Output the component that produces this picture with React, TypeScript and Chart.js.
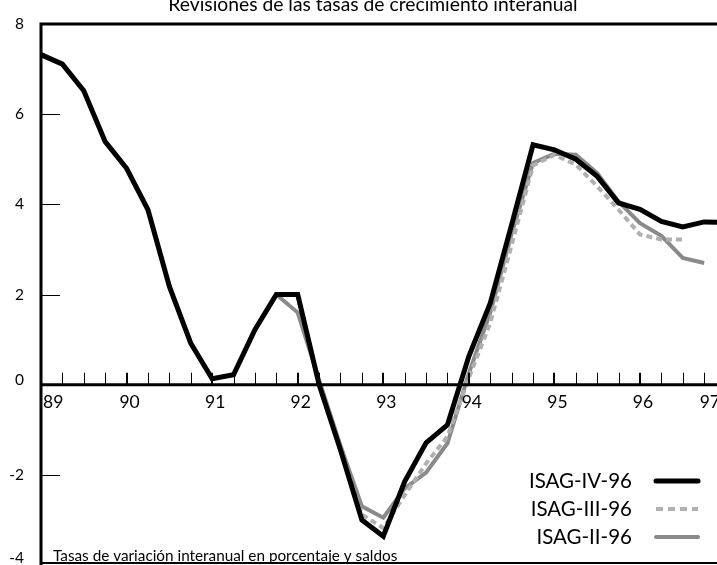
import React, { useEffect, useRef } from "react";
import { Chart, registerables } from "chart.js";

Chart.register(...registerables);

// Quarterly categories, 1989-I .. 1997-I
const years = ["89", "90", "91", "92", "93", "94", "95", "96", "97"];
const quarters: string[] = [];
years.forEach((yy) => ["I", "II", "III", "IV"].forEach((q) => quarters.push(`${yy}-${q}`)));
quarters.length = 33;

const isagIV = [7.32, 7.11, 6.52, 5.39, 4.8, 3.88, 2.18, 0.92, 0.13, 0.22, 1.22, 2.0, 2.0, 0.0, -1.45, -3.0, -3.36, -2.15, -1.29, -0.89, 0.63, 1.81, 3.55, 5.32, 5.21, 5.0, 4.62, 4.03, 3.89, 3.62, 3.5, 3.61, 3.6];
const isagIII = [null, null, null, null, null, null, null, null, null, null, null, null, 2.0, 0.0, -1.45, -2.88, -3.18, -2.45, -1.75, -1.15, 0.15, 1.37, 3.1, 4.86, 5.1, 4.88, 4.4, 3.88, 3.33, 3.22, 3.22];
const isagII = [null, null, null, null, null, null, null, null, null, null, null, 2.0, 1.6, 0.1, -1.35, -2.7, -2.95, -2.3, -1.95, -1.3, 0.25, 1.6, 3.35, 4.92, 5.12, 5.1, 4.69, 4.06, 3.58, 3.3, 2.81, 2.7];

const yTicks = [8, 6, 4, 2, 0, -2, -4];
const seriesNames = ["ISAG-IV-96", "ISAG-III-96", "ISAG-II-96"];
const titleText = "Revisiones de las tasas de crecimiento interanual";
const noteText = "Tasas de variación interanual en porcentaje y saldos";

const FONT = "Lato, 'Open Sans', sans-serif";

const toPoints = (arr: (number | null)[]) => arr.map((v, i) => ({ x: i, y: v }));

export default function App() {
  const ref = useRef<HTMLCanvasElement | null>(null);
  useEffect(() => {
    document.body.style.margin = "0";
    const canvas = ref.current!;
    const decor = {
      id: "decor",
      afterDraw(chart: any) {
        const { ctx, chartArea } = chart;
        const { left, top, right, bottom } = chartArea;
        const x = chart.scales.x;
        const y = chart.scales.y;
        ctx.save();
        ctx.strokeStyle = "#000";
        ctx.lineCap = "butt";
        // frame
        ctx.lineWidth = 3;
        ctx.beginPath();
        ctx.moveTo(left, bottom);
        ctx.lineTo(left, top);
        ctx.lineTo(right, top);
        ctx.stroke();
        ctx.lineWidth = 2;
        ctx.beginPath();
        ctx.moveTo(left, bottom - 2);
        ctx.lineTo(right, bottom - 2);
        ctx.stroke();
        // zero axis
        const y0 = y.getPixelForValue(0);
        ctx.lineWidth = 3;
        ctx.beginPath();
        ctx.moveTo(left, y0);
        ctx.lineTo(right, y0);
        ctx.stroke();
        // quarter ticks
        for (let i = 1; i < quarters.length; i++) {
          const px = x.getPixelForValue(i);
          if (px > right) break;
          const major = i % 4 === 0;
          ctx.lineWidth = major ? 2 : 1;
          const xx = major ? Math.round(px) : Math.round(px) + 0.5;
          ctx.beginPath();
          ctx.moveTo(xx, y0);
          ctx.lineTo(xx, y0 - 12);
          ctx.stroke();
        }
        // y ticks
        ctx.lineWidth = 1;
        yTicks.forEach((v) => {
          if (v === 8 || v === 0 || v === -4) return;
          const py = Math.round(y.getPixelForValue(v)) + 0.5;
          ctx.beginPath();
          ctx.moveTo(left, py);
          ctx.lineTo(left + 19, py);
          ctx.stroke();
        });
        // y labels
        ctx.fillStyle = "#000";
        ctx.font = `15.5px ${FONT}`;
        ctx.textAlign = "right";
        ctx.textBaseline = "middle";
        yTicks.forEach((v) => {
          let py = y.getPixelForValue(v);
          if (v === 0) py -= 5;
          py = Math.max(20, Math.min(558, py));
          ctx.fillText(String(v), 24, py);
        });
        // x labels
        ctx.font = `17.5px ${FONT}`;
        ctx.textBaseline = "middle";
        ctx.textAlign = "left";
        years.forEach((lab, k) => {
          const px = x.getPixelForValue(k * 4) + 3;
          const w = ctx.measureText(lab).width;
          let lx = px - w / 2;
          lx = Math.max(left + 2, Math.min(720 - w, lx));
          ctx.fillText(lab, lx, y0 + 18);
        });
        // legend
        const legendY = [481, 509, 537];
        const styles = [
          { c: "#000", w: 5, d: [] as number[] },
          { c: "#b0b0b0", w: 4, d: [7, 5] },
          { c: "#8a8a8a", w: 4, d: [] as number[] },
        ];
        ctx.font = `20.5px ${FONT}`;
        ctx.textAlign = "right";
        seriesNames.forEach((n, i) => {
          ctx.fillStyle = "#000";
          ctx.fillText(n, 632, legendY[i]);
          const s = styles[i];
          ctx.strokeStyle = s.c;
          ctx.lineWidth = s.w;
          ctx.setLineDash(s.d);
          ctx.lineCap = s.d.length ? "butt" : "round";
          ctx.beginPath();
          ctx.moveTo(656, legendY[i]);
          ctx.lineTo(698, legendY[i]);
          ctx.stroke();
        });
        ctx.setLineDash([]);
        // note
        ctx.fillStyle = "#000";
        ctx.font = `15.3px ${FONT}`;
        ctx.textAlign = "left";
        ctx.textBaseline = "alphabetic";
        ctx.fillText(noteText, 53, 561);
        // title
        ctx.font = `19.3px ${FONT}`;
        ctx.textAlign = "center";
        ctx.fillText(titleText, 373, 10.5);
        ctx.restore();
      },
    };
    const chart = new Chart(canvas, {
      type: "line",
      data: {
        datasets: [
          { label: seriesNames[0], data: toPoints(isagIV), borderColor: "#000", borderWidth: 5, pointRadius: 0, tension: 0 },
          { label: seriesNames[1], data: toPoints(isagIII), borderColor: "#b0b0b0", borderWidth: 4, borderDash: [6, 4], pointRadius: 0, tension: 0 },
          { label: seriesNames[2], data: toPoints(isagII), borderColor: "#8a8a8a", borderWidth: 4, pointRadius: 0, tension: 0 },
        ],
      },
      options: {
        responsive: false,
        animation: false,
        layout: { padding: { left: 41, top: 24, right: 0, bottom: 0 } },
        plugins: { legend: { display: false }, title: { display: false }, tooltip: { enabled: false } },
        scales: {
          x: { type: "linear", min: 0, max: 31.6, display: false },
          y: { type: "linear", min: -4, max: 8, display: false },
        },
      },
      plugins: [decor],
    });
    return () => chart.destroy();
  }, []);
  return <canvas ref={ref} width={717} height={565} style={{ display: "block" }} />;
}
